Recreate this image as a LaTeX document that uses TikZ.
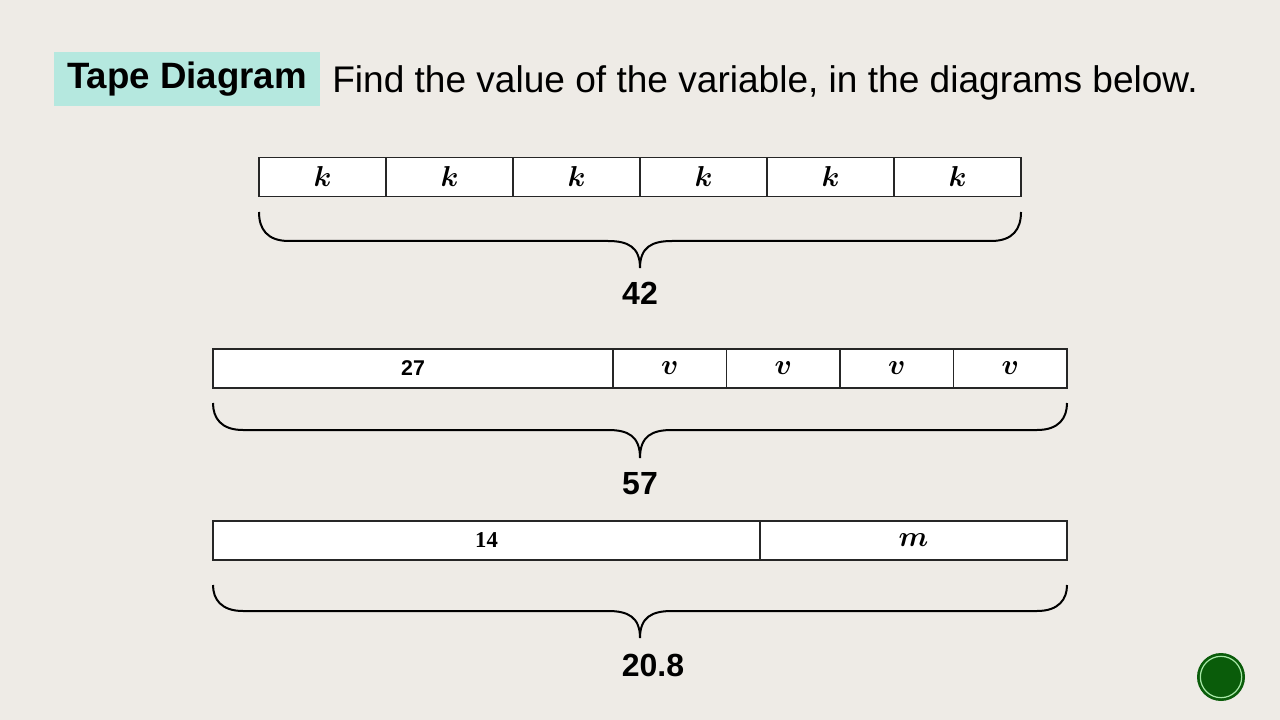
\documentclass[tikz,border=0pt]{standalone}
\usepackage{fontspec}
\setmainfont{Liberation Sans}
\newfontfamily\serifb{Liberation Serif}
\usepackage{amsmath}
\usepackage{graphicx}
\definecolor{bg}{HTML}{EEEBE6}
\definecolor{tealbox}{HTML}{B5E8DF}
\definecolor{dgreen}{HTML}{0A5C0A}
\definecolor{lgreen}{HTML}{A8E8A8}
\newcommand\tbrace[6]{% xa xb xm ytop yline ytip
  \draw[brace] (#1,#4) .. controls (#1,#5-12) and (#1+8,#5) .. (#1+30,#5)
    -- (#3-32,#5) .. controls (#3-12,#5) and (#3,#5+6) .. (#3,#6)
    .. controls (#3,#5+6) and (#3+12,#5) .. (#3+32,#5)
    -- (#2-30,#5) .. controls (#2-8,#5) and (#2,#5-12) .. (#2,#4);}
\newcommand\bigvar[1]{\scalebox{1.25}{$\boldsymbol{#1}$}}
\begin{document}
\begin{tikzpicture}[x=0.75pt,y=-0.75pt,
  cell/.style={draw=black!85, line width=1pt, fill=white, inner sep=0pt,
    minimum width=#1*0.75pt, minimum height=39*0.75pt,
    font=\fontsize{16}{18}\selectfont},
  brace/.style={draw=black, line width=1.5pt},
  total/.style={font=\fontsize{24}{28}\selectfont\bfseries, inner sep=0pt}]
\useasboundingbox (0,0) rectangle (1280,720);
\fill[bg] (0,0) rectangle (1280,720);
% title
\node[fill=tealbox, minimum width=266*0.75pt, minimum height=54*0.75pt,
  font=\fontsize{27.5}{32}\selectfont\bfseries, inner sep=0pt] (tag) at (187,79) {Tape Diagram};
\node[anchor=base west, inner sep=0pt, font=\fontsize{27.8}{32}\selectfont] (q) at (332,93)
  {Find the value of the variable, in the diagrams below.};
% tape 1
\node[cell=127] (k1) at (322.5,177) {\bigvar{k}};
\node[cell=127] (k2) at (449.5,177) {\bigvar{k}};
\node[cell=127] (k3) at (576.5,177) {\bigvar{k}};
\node[cell=127] (k4) at (703.5,177) {\bigvar{k}};
\node[cell=127] (k5) at (830.5,177) {\bigvar{k}};
\node[cell=127] (k6) at (957.5,177) {\bigvar{k}};
\tbrace{259}{1021}{640}{212}{241}{268}
\node[total] (t1) at (640,293) {42};
% tape 2
\node[cell=400, font=\fontsize{16}{18}\selectfont\bfseries] (c27) at (413,368.5) {27};
\node[cell=113.5] (v1) at (669.75,368.5) {\bigvar{v}};
\node[cell=113.5] (v2) at (783.25,368.5) {\bigvar{v}};
\node[cell=113.5] (v3) at (896.75,368.5) {\bigvar{v}};
\node[cell=113.5] (v4) at (1010.25,368.5) {\bigvar{v}};
\tbrace{213}{1067}{640}{403}{430}{458}
\node[total] (t2) at (640,484) {57};
% tape 3
\node[cell=547, font=\fontsize{17}{19}\selectfont\serifb\bfseries] (c14) at (486.5,540.5) {14};
\node[cell=307] (m1) at (913.5,540.5) {\bigvar{m}};
\tbrace{213}{1067}{640}{585}{611}{638}
\node[total] (t3) at (653,665) {20.8};
% button
\node[circle, fill=dgreen, minimum size=48*0.75pt, inner sep=0pt] (btn) at (1221,677) {};
\draw[lgreen, line width=0.9pt] (btn.center) circle[radius=15.5pt];
\end{tikzpicture}
\end{document}
